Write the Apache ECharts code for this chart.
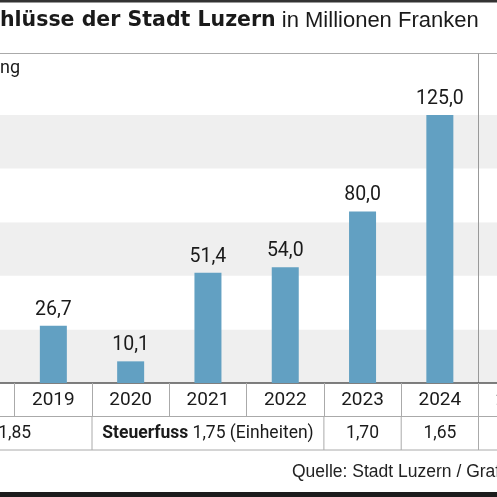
<!DOCTYPE html>
<html><head><meta charset="utf-8">
<script src="https://cdn.jsdelivr.net/npm/echarts@6/dist/echarts.min.js"></script>
<style>html,body{margin:0;padding:0;background:#fff}#c{width:497px;height:497px}</style>
</head><body><div id="c"></div>
<script>
const years = ['2018', '2019', '2020', '2021', '2022', '2023', '2024', '2025'];
const results = [null, 26.7, 10.1, 51.4, 54.0, 80.0, 125.0, null];
const yMin = 0, yMax = 150, yStep = 25;
const taxValues = ['1,85', '1,75', '1,70', '1,65'];
const taxFirstYear = ['2018', '2020', '2023', '2024'];
const taxLastYear = ['2019', '2022', '2023', '2024'];
const titleBold = 'hlüsse der Stadt Luzern';
const titleRest = ' in Millionen Franken';
const subTitle = 'ng';
const taxPrefix = 'Steuerfuss';
const taxSuffix = '(Einheiten)';
const sourceText = 'Quelle: Stadt Luzern / Grafik';

const NARROW = "Roboto,'Liberation Sans',sans-serif";
const SANS = "'Liberation Sans',Arial,sans-serif";
const TXT = '#1a1a1a';

const chart = echarts.init(document.getElementById('c'), null, {renderer: 'canvas'});
const gridLeft = -62.6, gridWidth = 618.4;
chart.setOption({
  animation: false,
  backgroundColor: '#fff',
  grid: {left: gridLeft, top: 61.4, width: gridWidth, height: 321.6, outerBoundsMode: 'none', containLabel: false},
  xAxis: {
    type: 'category', data: years,
    axisLine: {lineStyle: {color: '#555', width: 1.5}},
    axisTick: {show: true, length: 33, lineStyle: {color: '#aaa', width: 1}},
    axisLabel: {fontFamily: NARROW, fontSize: 19, color: TXT, margin: 17, verticalAlign: 'middle', interval: 0}
  },
  yAxis: {
    type: 'value', min: yMin, max: yMax, interval: yStep,
    axisLabel: {show: false}, axisLine: {show: false}, axisTick: {show: false},
    splitLine: {show: false},
    splitArea: {show: true, areaStyle: {color: ['#efefef', '#ffffff']}}
  },
  series: [{
    type: 'bar', data: results, barWidth: 27,
    itemStyle: {color: '#62a0c2'},
    label: {show: true, position: 'top', distance: 6, fontFamily: NARROW, fontSize: 19.5, color: TXT,
      formatter: p => p.value == null ? '' : p.value.toFixed(1).replace('.', ',')}
  }]
});

const bw = gridWidth / years.length;
const x0 = chart.convertToPixel({xAxisIndex: 0}, years[0]) - bw / 2;
const bnd = i => x0 + i * bw;
const idx = y => years.indexOf(y);
const yRow1 = 416.5, yRow2 = 450;
const g = [];
g.push({type: 'rect', shape: {x: 0, y: 0, width: 497, height: 2.5}, style: {fill: '#333'}});
g.push({type: 'text', x: 0, y: 21, style: {
  text: '{b|' + titleBold + '}{r|' + titleRest + '}', verticalAlign: 'middle',
  rich: {b: {fontFamily: "'DejaVu Sans',sans-serif", fontWeight: 'bold', fontSize: 20.5, fill: TXT},
         r: {fontFamily: SANS, fontSize: 22, fill: TXT}}}});
g.push({type: 'line', shape: {x1: 0, y1: 53.5, x2: 497, y2: 53.5}, style: {stroke: '#aaa', lineWidth: 1}});
g.push({type: 'text', x: 0, y: 68, style: {text: subTitle, fontFamily: NARROW, fontSize: 18, fill: TXT, verticalAlign: 'middle'}});
g.push({type: 'line', shape: {x1: bnd(7), y1: 53.5, x2: bnd(7), y2: yRow2}, style: {stroke: '#999', lineWidth: 1}});
g.push({type: 'line', shape: {x1: 0, y1: yRow1, x2: 497, y2: yRow1}, style: {stroke: '#aaa', lineWidth: 1}});
g.push({type: 'line', shape: {x1: 0, y1: yRow2, x2: 497, y2: yRow2}, style: {stroke: '#aaa', lineWidth: 1}});
taxValues.forEach((v, k) => {
  const a = idx(taxFirstYear[k]), b = idx(taxLastYear[k]) + 1;
  g.push({type: 'line', shape: {x1: bnd(b), y1: yRow1, x2: bnd(b), y2: yRow2}, style: {stroke: '#aaa', lineWidth: 1}});
  const cx = (bnd(a) + bnd(b)) / 2;
  const txt = (b - a > 1 && k === 1) ? '{p|' + taxPrefix + '} ' + v + ' ' + taxSuffix : v;
  g.push({type: 'text', x: cx, y: (yRow1 + yRow2) / 2, style: {
    text: txt, fontFamily: NARROW, fontSize: 17.5, fill: TXT, align: 'center', verticalAlign: 'middle',
    rich: {p: {fontFamily: NARROW, fontWeight: 'bold', fontSize: 17.5, fill: TXT}}}});
});
g.push({type: 'text', x: 292, y: 472, style: {text: sourceText, fontFamily: SANS, fontSize: 17.5, fill: '#222', verticalAlign: 'middle'}});
g.push({type: 'rect', shape: {x: 0, y: 492, width: 497, height: 5}, style: {fill: '#1c1c1c'}});
chart.setOption({graphic: g});
</script>
</body></html>
